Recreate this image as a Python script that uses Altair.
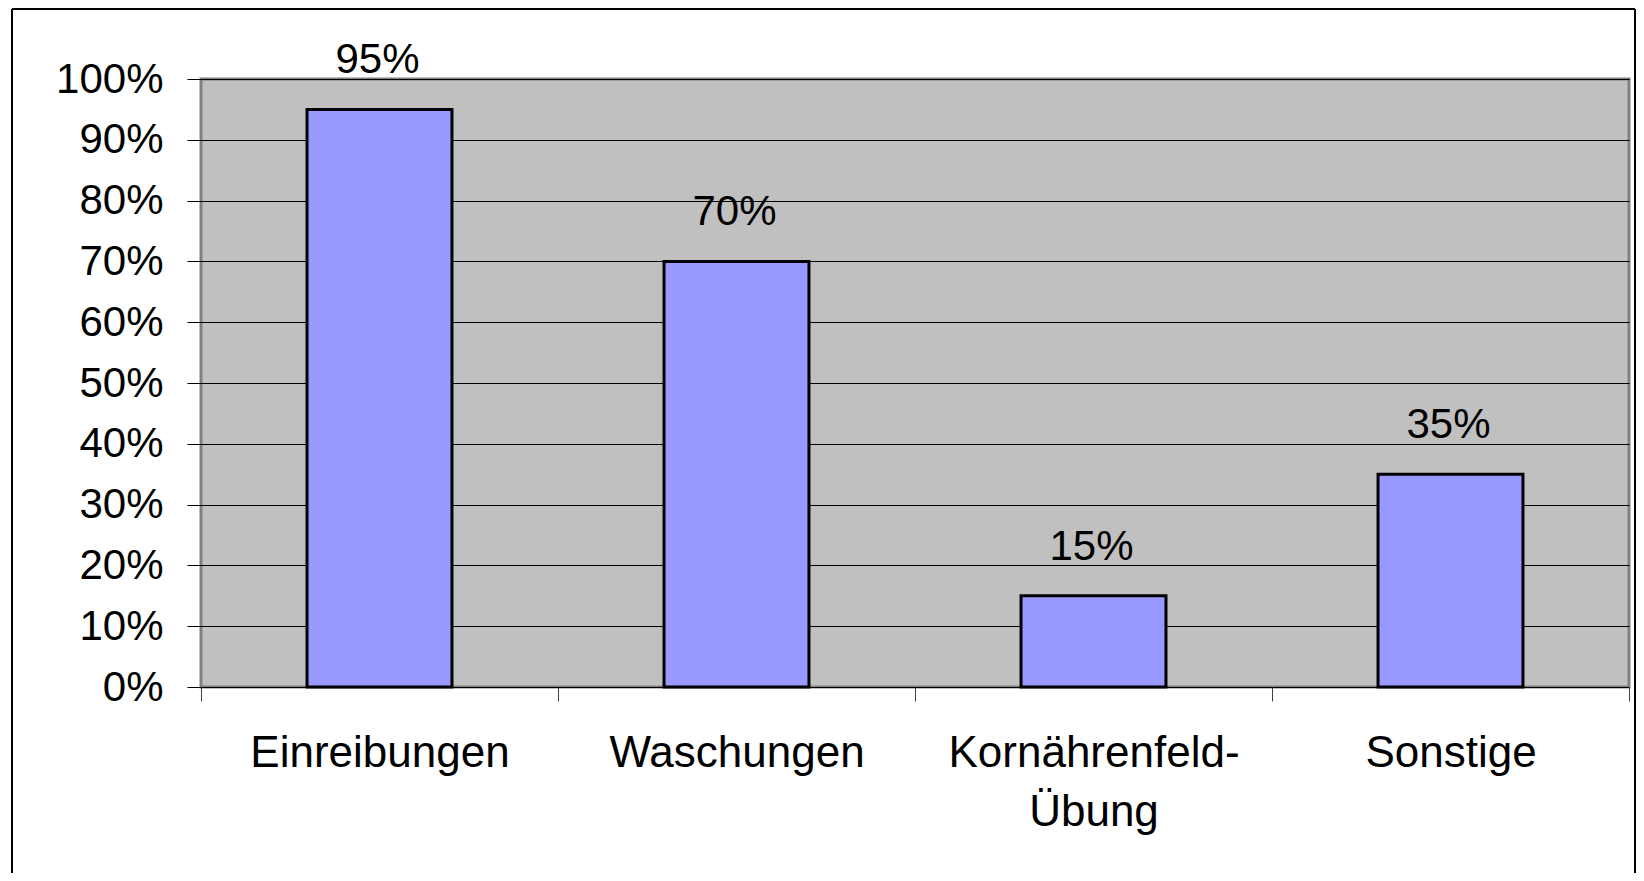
import altair as alt
import pandas as pd

categories = ["Einreibungen", "Waschungen", "Kornährenfeld-Übung", "Sonstige"]
values = [0.95, 0.70, 0.15, 0.35]
value_labels = ["95%", "70%", "15%", "35%"]

df = pd.DataFrame({"cat": categories, "val": values, "lab": value_labels})

FONT = "Liberation Sans"
PW, PH = 1428, 608

x_enc = alt.X(
    "cat:N",
    sort=categories,
    scale=alt.Scale(paddingInner=0, paddingOuter=0),
    axis=alt.Axis(
        title=None,
        labelAngle=0,
        tickBand="extent",
        tickSize=14,
        tickColor="#404040",
        tickWidth=1,
        domain=False,
        grid=False,
        labelFont=FONT,
        labelFontSize=44,
        labelColor="black",
        labelPadding=30,
        labelBaseline="top",
        labelLineHeight=59,
        labelLimit=0,
        labelOverlap=False,
        labelExpr="datum.label == 'Kornährenfeld-Übung' ? ['Kornährenfeld-', 'Übung'] : datum.label",
    ),
)

y_enc = alt.Y(
    "val:Q",
    scale=alt.Scale(domain=[0, 1], nice=False),
    axis=alt.Axis(
        title=None,
        format=".0%",
        values=[i / 10 for i in range(11)],
        tickSize=14,
        tickColor="black",
        tickWidth=1,
        domain=False,
        grid=True,
        gridColor="black",
        gridWidth=1,
        gridOpacity=1,
        labelFont=FONT,
        labelFontSize=42,
        labelColor="black",
        labelPadding=24,
        labelOverlap=False,
    ),
)

bars = alt.Chart(df).mark_bar(
    width=alt.RelativeBandSize(0.406),
    color="#9999FF",
    stroke="black",
    strokeWidth=3,
).encode(x=x_enc, y=y_enc)

texts = alt.Chart(df).mark_text(
    font=FONT, fontSize=42, color="black", baseline="alphabetic", dy=-36, dx=-2
).encode(x=alt.X("cat:N", sort=categories), y="val:Q", text="lab:N")

one = alt.Data(values=[{"a": 1}])
border_left = alt.Chart(one).mark_rule(color="black", strokeWidth=2).encode(
    x=alt.value(-189), y=alt.value(-70), y2=alt.value(794)
)
border_top = alt.Chart(one).mark_rule(color="black", strokeWidth=2).encode(
    x=alt.value(-189), x2=alt.value(1434), y=alt.value(-70)
)
border_right = alt.Chart(one).mark_rule(color="black", strokeWidth=2).encode(
    x=alt.value(1434), y=alt.value(-70), y2=alt.value(794)
)

chart = alt.layer(bars, texts, border_left, border_top, border_right).properties(
    width=PW,
    height=PH,
    autosize=alt.AutoSizeParams(type="none"),
    padding={"left": 193, "top": 71, "right": 7, "bottom": 186},
    background="white",
).configure_view(
    fill="#C0C0C0", stroke="#808080", strokeWidth=3
)

chart.save("out.html", embed_options={"renderer": "svg", "actions": False})
